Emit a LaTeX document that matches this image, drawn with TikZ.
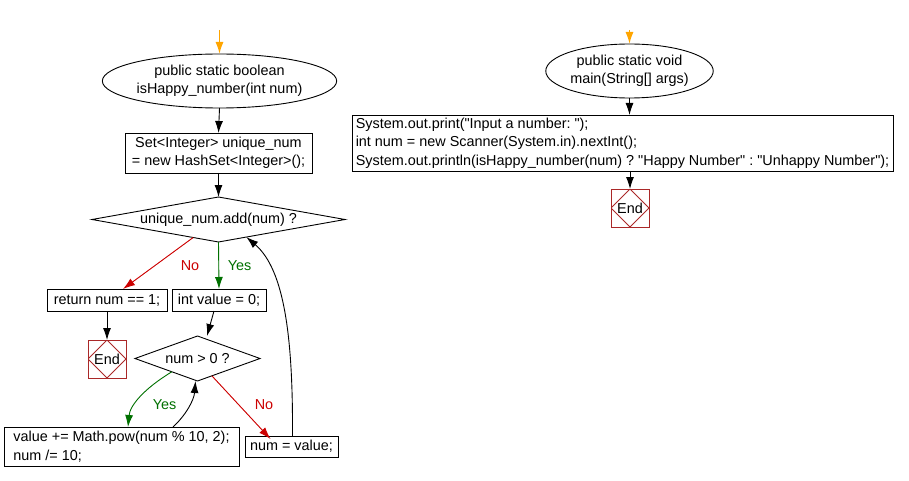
\documentclass[tikz,border=0pt]{standalone}
\usepackage{fontspec}
\setmainfont{Liberation Sans}
\usetikzlibrary{shapes.geometric,arrows.meta,calc}
\definecolor{flowred}{RGB}{204,0,0}
\definecolor{flowgreen}{RGB}{0,112,0}
\definecolor{flowor}{RGB}{255,165,0}
\definecolor{endred}{RGB}{170,40,40}
\newcommand{\dq}{\textquotedbl}
\begin{document}
\frenchspacing
\begin{tikzpicture}[x=1pt,y=-1pt,
  every node/.style={font=\fontsize{14.4}{18.5}\selectfont, inner sep=0pt, outer sep=0pt},
  startoval/.style={draw, ellipse, line width=0.9pt, align=center},
  stmt/.style={draw, rectangle, line width=0.9pt, align=center},
  stmtleft/.style={draw, rectangle, line width=0.9pt, align=left},
  decide/.style={draw, diamond, line width=0.9pt, align=center},
  endbox/.style={draw=endred, rectangle, line width=0.9pt, minimum width=38pt, minimum height=38pt,
    path picture={\draw[endred, line width=0.8pt] (path picture bounding box.north) -- (path picture bounding box.east) -- (path picture bounding box.south) -- (path picture bounding box.west) -- cycle;}},
  conn/.style={line width=0.9pt, -{Latex[length=12pt,width=8pt]}},
  yesconn/.style={conn, draw=flowgreen, fill=flowgreen},
  noconn/.style={conn, draw=flowred, fill=flowred},
  startconn/.style={line width=1.6pt, draw=flowor, -{Latex[length=12pt,width=8pt]}},
  yeslab/.style={text=flowgreen},
  nolab/.style={text=flowred}
]
\useasboundingbox (0,0) rectangle (909,481);

% ---- left flowchart ----
\coordinate (o1) at (219.5,30);
\node[startoval, minimum width=195pt, minimum height=54pt] (e1) at (219.5,81) {public static boolean\\isHappy\_number(int num)};
\node[stmt, minimum width=187pt, minimum height=40pt] (b1) at (218.5,153) {Set<Integer> unique\_num\\= new HashSet<Integer>();};
\node[decide, minimum width=253pt, minimum height=45pt, aspect=5.6] (d1) at (218.5,219.5) {unique\_num.add(num) ?};
\node[stmt, minimum width=120pt, minimum height=22pt] (rtn) at (107,300) {return num == 1;};
\node[stmt, minimum width=94pt, minimum height=22pt] (iv) at (219,300) {int value = 0;};
\node[endbox] (end1) at (107,359) {End};
\node[decide, minimum width=125pt, minimum height=45pt, aspect=2.8] (d2) at (197.5,358.5) {num > 0 ?};
\node[stmtleft, minimum width=235pt, minimum height=39pt] (vb) at (121.5,446.5) {value += Math.pow(num \% 10, 2);\\num /= 10;\hspace*{0pt}};
\node[stmt, minimum width=93pt, minimum height=21pt] (nv) at (291.5,446.5) {num = value;};

\node[nolab] (no1) at (190,266) {No};
\node[yeslab] (yes1) at (239.5,266) {Yes};
\node[yeslab] (yes2) at (164.5,405) {Yes};
\node[nolab] (no2) at (264,405) {No};

\draw[startconn] (o1) -- (e1.north);
\draw[conn] (e1.south) -- (b1.north);
\draw[conn] (b1.south) -- (d1.north);
\draw[yesconn] (d1.south) -- (iv.north);
\draw[noconn] ($(d1.south)!0.2!(d1.west)$) -- ([xshift=16pt]rtn.north);
\draw[conn] (rtn.south) -- (end1.north);
\draw[conn] ([xshift=-5pt]iv.south) -- ([xshift=9.5pt]d2.north);
\draw[yesconn, fill=none] ($(d2.south)!0.41!(d2.west)$) .. controls (145,388) and (130,405) .. ([xshift=6.5pt]vb.north);
\draw[conn] ([xshift=51.5pt]vb.north) .. controls (186,415) and (194,400) .. ([xshift=-2pt]d2.south);
\draw[noconn] ($(d2.south)!0.23!(d2.east)$) -- ([xshift=-21pt,yshift=-3pt]nv.north);
\draw[conn] ([xshift=1pt]nv.north) .. controls (293,340) and (285,270) .. ($(d1.south)!0.22!(d1.east)$);

% ---- right flowchart ----
\coordinate (o2) at (629.5,30);
\node[startoval, minimum width=147pt, minimum height=54pt] (e2) at (629.5,71) {public static void\\main(String[] args)};
\node[stmtleft, minimum width=541pt, minimum height=56pt] (b2) at (622.5,143) {System.out.print(\dq Input a number: \dq);\\int num = new Scanner(System.in).nextInt();\\System.out.println(isHappy\_number(num) ? \dq Happy Number\dq{} : \dq Unhappy Number\dq);};
\node[endbox] (end2) at (630,208) {End};

\draw[startconn] (o2) -- (e2.north);
\draw[conn] (e2.south) -- (e2.south |- b2.north);
\draw[conn] (end2.north |- b2.south) -- (end2.north);
\end{tikzpicture}
\end{document}
